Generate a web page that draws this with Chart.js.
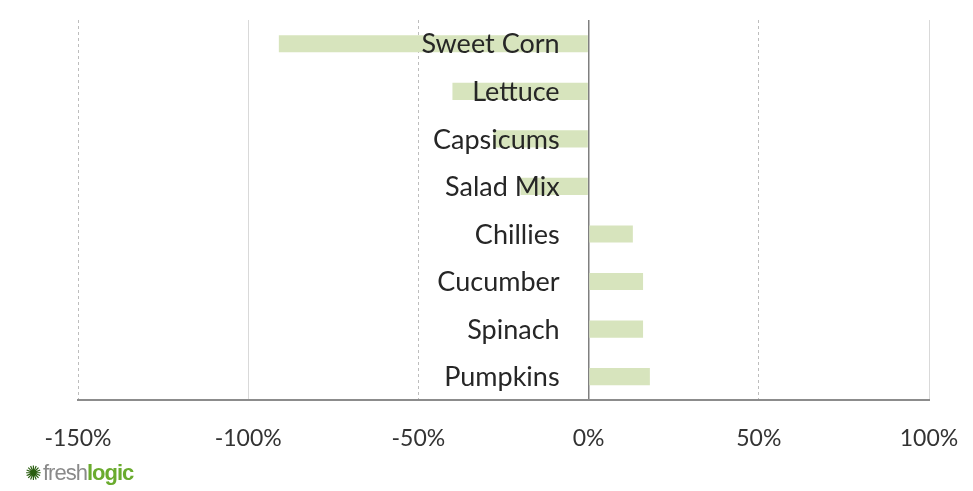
<!DOCTYPE html>
<html>
<head>
<meta charset="utf-8">
<script src="https://cdn.jsdelivr.net/npm/chart.js@4.4.1/dist/chart.umd.min.js"></script>
<style>
  html, body { margin: 0; padding: 0; background: #fff; }
  #wrap { position: relative; width: 973px; height: 491px; }
  #logo { position: absolute; left: 25px; top: 460px; font-family: "Liberation Sans", Arial, sans-serif; font-size: 22px; letter-spacing: -1px; color: #8a8a8a; }
  #logo .star { color: #2a5e10; font-size: 20px; margin-right: 2px; }
  #logo b { color: #6aab2e; }
</style>
</head>
<body>
<div id="wrap">
  <canvas id="chart" width="973" height="491"></canvas>
  <div id="logo"><span class="star">✺</span>fresh<b>logic</b></div>
</div>
<script>
const categories = ["Sweet Corn", "Lettuce", "Capsicums", "Salad Mix", "Chillies", "Cucumber", "Spinach", "Pumpkins"];
const changes = [-91, -40, -28, -20, 13, 16, 16, 18];
const tickValues = [-150, -100, -50, 0, 50, 100];
const dashedTicks = [-150, -50, 50];

// category names are drawn just left of the 0% line, over the bars
const labelsAtZero = {
  id: "labelsAtZero",
  afterDatasetsDraw(chart) {
    const { ctx, scales: { x, y } } = chart;
    const x0 = x.getPixelForValue(0);
    ctx.save();
    ctx.font = "27px Lato";
    ctx.fillStyle = "#262626";
    ctx.textAlign = "right";
    ctx.textBaseline = "middle";
    categories.forEach((c, i) => {
      ctx.fillText(c, x0 - 29, y.getPixelForValue(i) + 1);
    });
    ctx.restore();
  },
};

const ctx = document.getElementById("chart").getContext("2d");

new Chart(ctx, {
  type: "bar",
  data: {
    labels: categories,
    datasets: [{
      data: changes,
      backgroundColor: "#d7e4bd",
      borderWidth: 0,
      barPercentage: 0.6,
      categoryPercentage: 0.6,
    }],
  },
  options: {
    indexAxis: "y",
    responsive: false,
    animation: false,
    layout: {
      padding: { left: 78, right: 44, top: 20, bottom: 15 },
    },
    plugins: {
      legend: { display: false },
      tooltip: { enabled: false },
    },
    scales: {
      x: {
        min: -150,
        max: 100,
        afterBuildTicks: (scale) => {
          scale.ticks = tickValues.map((v) => ({ value: v }));
        },
        afterFit: (scale) => {
          scale.paddingLeft = 0;
          scale.paddingRight = 0;
        },
        ticks: {
          callback: (v) => v + "%",
          font: { family: "Lato", size: 23 },
          color: "#333",
          padding: 24,
          maxRotation: 0,
        },
        grid: {
          drawTicks: false,
          color: (c) => (c.tick && c.tick.value === 0 ? "#7f7f7f" : c.tick && dashedTicks.includes(c.tick.value) ? "#bdbdbd" : "#d9d9d9"),
          lineWidth: (c) => (c.tick && c.tick.value === 0 ? 1.5 : 1),
        },
        border: {
          color: "#8c8c8c",
          width: 2,
          dash: (c) => (c.tick && dashedTicks.includes(c.tick.value) ? [3, 3] : []),
        },
      },
      y: {
        display: false,
      },
    },
  },
  plugins: [labelsAtZero],
});
</script>
</body>
</html>
